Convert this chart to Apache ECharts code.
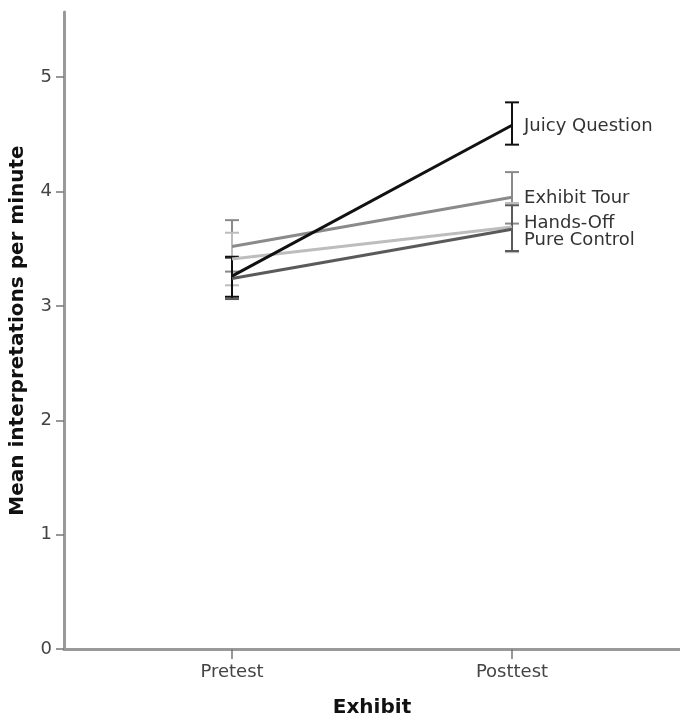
<!DOCTYPE html>
<html><head><meta charset="utf-8">
<script src="https://cdn.jsdelivr.net/npm/echarts@6/dist/echarts.min.js"></script>
<style>html,body{margin:0;padding:0;background:#fff}#c{width:680px;height:716px}</style>
</head><body><div id="c"></div>
<script>
const phases = ['Pretest', 'Posttest'];
const seriesNames = ['Juicy Question', 'Exhibit Tour', 'Hands-Off', 'Pure Control'];
const juicyMean = [3.26, 4.58];
const juicyLow = [3.08, 4.41];
const juicyHigh = [3.43, 4.78];
const tourMean = [3.52, 3.95];
const tourLow = [3.30, 3.72];
const tourHigh = [3.75, 4.17];
const handsMean = [3.41, 3.69];
const handsLow = [3.18, 3.47];
const handsHigh = [3.64, 3.90];
const pureMean = [3.24, 3.67];
const pureLow = [3.06, 3.48];
const pureHigh = [3.42, 3.88];
const yTicks = [0, 1, 2, 3, 4, 5];

const colors = ['#111111', '#8a8a8a', '#bdbdbd', '#5a5a5a'];
const means = [juicyMean, tourMean, handsMean, pureMean];
const lows = [juicyLow, tourLow, handsLow, pureLow];
const highs = [juicyHigh, tourHigh, handsHigh, pureHigh];
const labelOffsets = [[0, 1], [0, 1], [0, -4], [0, 11]];
const font = 'DejaVu Sans';

const series = [];
[1, 2, 3, 0].forEach(i => {
  series.push({
    type: 'custom',
    z: 2,
    silent: true,
    data: phases.map((p, k) => [k, lows[i][k], highs[i][k]]),
    renderItem: function (params, api) {
      const x = api.value(0);
      const lo = api.coord([x, api.value(1)]);
      const hi = api.coord([x, api.value(2)]);
      const w = 7;
      const st = { stroke: colors[i], lineWidth: 2 };
      return {
        type: 'group',
        children: [
          { type: 'line', shape: { x1: lo[0], y1: lo[1], x2: hi[0], y2: hi[1] }, style: st },
          { type: 'line', shape: { x1: lo[0] - w, y1: lo[1], x2: lo[0] + w, y2: lo[1] }, style: st },
          { type: 'line', shape: { x1: hi[0] - w, y1: hi[1], x2: hi[0] + w, y2: hi[1] }, style: st }
        ]
      };
    }
  });
});
[1, 2, 3, 0].forEach(i => {
  series.push({
    name: seriesNames[i],
    type: 'line',
    z: 3,
    symbol: 'none',
    data: means[i].map((v, k) => {
      const d = { value: [k, v] };
      if (k === 1) {
        d.symbol = 'circle';
        d.symbolSize = 0.1;
        d.label = {
          show: true, position: 'right', distance: 12,
          offset: labelOffsets[i],
          formatter: seriesNames[i],
          color: '#333', fontFamily: font, fontSize: 18
        };
      }
      return d;
    }),
    lineStyle: { color: colors[i], width: 3 },
    itemStyle: { color: colors[i] }
  });
});

const chart = echarts.init(document.getElementById('c'));
chart.setOption({
  animation: false,
  backgroundColor: '#fff',
  grid: { left: 64, right: 0, top: 12, bottom: 67, containLabel: false, outerBoundsMode: 'none' },
  xAxis: {
    type: 'value', min: -0.6, max: 1.6,
    name: 'Exhibit', nameLocation: 'middle', nameGap: 49,
    nameTextStyle: { fontFamily: font, fontSize: 20, fontWeight: 'bold', color: '#111' },
    axisLine: { show: true, onZero: false, lineStyle: { color: '#999', width: 3 } },
    axisTick: { show: true, customValues: [0, 1], length: 10, inside: false, lineStyle: { color: '#777', width: 1.5 } },
    axisLabel: {
      customValues: [0, 1], margin: 14,
      formatter: v => phases[Math.round(v)] || '',
      fontFamily: font, fontSize: 18, color: '#444'
    },
    splitLine: { show: false }
  },
  yAxis: {
    type: 'value', min: 0, max: 5.57,
    name: 'Mean interpretations per minute', nameLocation: 'middle', nameGap: 36,
    nameTextStyle: { fontFamily: font, fontSize: 20, fontWeight: 'bold', color: '#111' },
    axisLine: { show: true, onZero: false, lineStyle: { color: '#999', width: 3 } },
    axisTick: { show: true, customValues: yTicks, length: 8, lineStyle: { color: '#777', width: 1.5 } },
    axisLabel: { customValues: yTicks, margin: 12, fontFamily: font, fontSize: 18, color: '#444' },
    splitLine: { show: false }
  },
  series: series
});
</script></body></html>
